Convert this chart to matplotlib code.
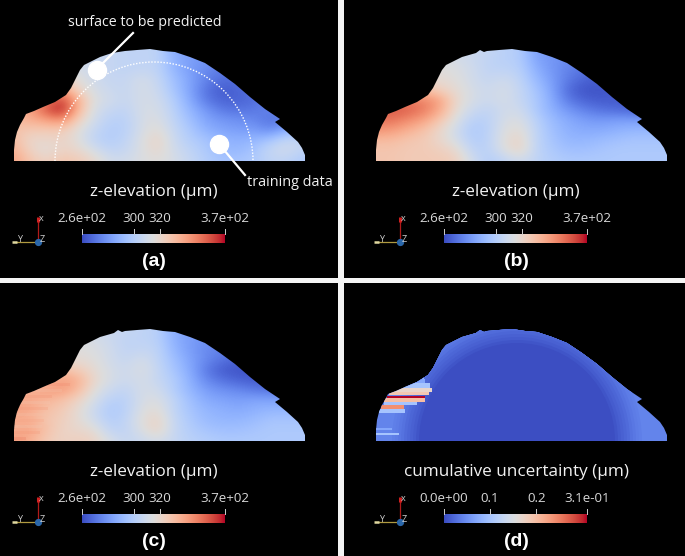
import numpy as np
import matplotlib
matplotlib.use("Agg")
import matplotlib.pyplot as plt
from matplotlib.patches import Polygon, Circle, Arc
from matplotlib.colors import Normalize

# ---- data -----------------------------------------------------------------
grid_x = [14, 30, 46, 62, 78, 94, 110, 126, 142, 158, 174, 190, 206, 222, 238, 254, 270, 286, 302]
grid_y = [50, 60, 70, 80, 90, 100, 110, 120, 130, 140, 150, 160]

surface_a = [
    [312, 312, 312, 312, 310, 308, 306, 304, 304, 304, 285, 282, 280, 278, 278, 278, 278, 278, 278],
    [312, 312, 312, 312, 310, 308, 306, 304, 304, 304, 288, 282, 280, 276, 276, 276, 276, 276, 276],
    [314, 314, 316, 316, 312, 308, 306, 304, 306, 304, 290, 282, 276, 272, 272, 274, 276, 276, 276],
    [322, 322, 326, 326, 316, 310, 306, 306, 312, 306, 294, 284, 274, 268, 268, 272, 276, 276, 276],
    [328, 334, 340, 342, 322, 312, 308, 306, 312, 308, 296, 284, 270, 264, 266, 270, 276, 278, 278],
    [330, 338, 348, 364, 336, 314, 310, 306, 312, 310, 300, 286, 272, 266, 266, 268, 274, 280, 280],
    [332, 340, 358, 370, 334, 312, 306, 304, 312, 312, 302, 290, 280, 272, 270, 272, 274, 276, 280],
    [332, 336, 340, 346, 324, 310, 302, 302, 312, 314, 304, 294, 284, 280, 278, 276, 270, 272, 284],
    [330, 326, 326, 326, 316, 306, 300, 302, 312, 318, 306, 298, 288, 284, 282, 282, 276, 286, 292],
    [332, 320, 320, 322, 316, 304, 300, 304, 314, 322, 308, 300, 296, 290, 288, 290, 296, 306, 304],
    [336, 322, 316, 322, 320, 312, 304, 306, 314, 320, 310, 304, 298, 292, 290, 296, 306, 310, 304],
    [340, 328, 322, 328, 326, 320, 310, 310, 314, 316, 312, 306, 300, 296, 296, 298, 304, 304, 298],
]
surface_b = [
    [312, 312, 312, 312, 312, 310, 308, 306, 302, 300, 282, 280, 278, 276, 276, 276, 276, 276, 276],
    [314, 314, 314, 314, 314, 312, 308, 304, 302, 300, 284, 280, 276, 274, 272, 272, 272, 272, 272],
    [316, 316, 316, 316, 316, 314, 310, 304, 304, 302, 288, 280, 274, 270, 268, 268, 270, 272, 272],
    [318, 318, 320, 320, 318, 316, 310, 306, 310, 304, 292, 282, 272, 266, 264, 264, 266, 270, 270],
    [322, 322, 326, 330, 324, 318, 312, 308, 312, 306, 296, 284, 268, 262, 262, 264, 266, 268, 270],
    [342, 348, 350, 348, 340, 320, 312, 308, 312, 306, 298, 286, 272, 266, 264, 264, 264, 266, 270],
    [354, 358, 356, 350, 338, 318, 308, 304, 310, 310, 298, 288, 280, 274, 270, 268, 266, 264, 268],
    [352, 352, 346, 340, 328, 314, 302, 302, 312, 314, 302, 292, 286, 282, 280, 282, 282, 280, 284],
    [344, 342, 336, 330, 320, 310, 298, 302, 314, 318, 304, 294, 288, 286, 286, 288, 290, 290, 290],
    [332, 332, 328, 326, 320, 312, 300, 302, 316, 322, 304, 296, 290, 290, 292, 294, 296, 296, 296],
    [328, 328, 326, 326, 324, 320, 304, 302, 314, 322, 304, 298, 294, 294, 296, 298, 298, 298, 298],
    [328, 328, 326, 326, 326, 324, 310, 300, 304, 310, 304, 300, 298, 298, 298, 298, 298, 298, 298],
]
surface_c = [
    [312, 312, 312, 312, 312, 310, 308, 306, 304, 302, 286, 282, 280, 278, 276, 276, 276, 276, 276],
    [312, 312, 312, 312, 314, 312, 308, 304, 304, 302, 288, 282, 278, 276, 274, 274, 274, 274, 274],
    [314, 314, 314, 314, 316, 314, 310, 304, 306, 304, 290, 282, 276, 274, 270, 270, 272, 274, 274],
    [316, 316, 316, 318, 318, 316, 310, 306, 312, 304, 294, 284, 276, 270, 266, 264, 266, 270, 272],
    [318, 318, 322, 330, 326, 318, 312, 308, 314, 306, 296, 286, 272, 264, 262, 262, 264, 268, 272],
    [326, 328, 332, 342, 336, 320, 312, 308, 312, 306, 300, 288, 276, 270, 266, 264, 264, 268, 272],
    [334, 336, 340, 342, 332, 316, 308, 304, 312, 310, 300, 290, 282, 278, 276, 272, 270, 270, 274],
    [338, 338, 334, 330, 322, 312, 302, 302, 312, 314, 304, 294, 286, 284, 282, 284, 284, 282, 284],
    [340, 338, 330, 326, 318, 308, 298, 302, 314, 318, 304, 296, 290, 288, 286, 288, 290, 290, 290],
    [336, 336, 328, 324, 318, 310, 300, 304, 316, 322, 306, 298, 292, 290, 290, 292, 296, 296, 296],
    [336, 340, 330, 322, 320, 318, 304, 304, 314, 322, 306, 300, 296, 294, 294, 296, 298, 298, 298],
    [342, 336, 326, 322, 324, 322, 312, 306, 308, 312, 306, 302, 300, 298, 298, 298, 298, 298, 298],
]

# horizontal streaks of panel (c)
c_streak_y = [104, 110, 116, 122, 128, 134, 140, 146, 152, 158]
c_streak_x1 = [70, 62, 52, 50, 48, 46, 44, 42, 40, 26]
c_streak_v = [348, 328, 345, 326, 344, 328, 340, 325, 344, 352]

# panel (d): rings and streaks of uncertainty
ring_radius = [330, 125, 122, 119, 116, 113, 110, 107, 104, 101, 98]
ring_value = [0.040, 0.037, 0.034, 0.031, 0.027, 0.023, 0.019, 0.015, 0.011, 0.007, 0.002]
d_streak_y = [97.7, 101.3, 105.7, 110, 113.3, 116.7, 120, 123.3, 127.3, 131, 149.3, 153.7]
d_streak_h = [3.4, 4, 5, 3.6, 3.6, 2.4, 3.6, 3.6, 4, 3.6, 2.0, 1.6]
d_streak_x0 = [51.7, 45, 36.7, 30, 26.7, 25, 21.7, 21.7, 19.3, 16.7, 14, 14]
d_streak_x1 = [61.7, 63, 68, 70, 67, 62.7, 63, 55, 41.7, 43, 30, 36.7]
d_streak_v = [0.09, 0.07, 0.10, 0.17, 0.19, 0.31, 0.20, 0.10, 0.24, 0.10, 0.07, 0.10]

outline_a = [(14, 161), (14, 150), (15, 140), (17, 132), (20, 125), (24, 118), (26, 114), (34, 111),
             (43, 107), (55, 102), (66, 95), (71, 88), (76, 78), (80, 70), (84, 65), (92, 61),
             (100, 57), (112, 53), (125, 51), (137, 50), (150, 49), (163, 51), (175, 52),
             (190, 57), (205, 63), (220, 73), (235, 84), (250, 97), (265, 109), (280, 119),
             (275, 122), (281, 127), (287, 132), (298, 142), (302, 148), (305, 155), (305, 161)]
outline_rest = outline_a[:17] + [(114, 53), (118, 50), (122, 52)] + outline_a[18:]

z_range = (260, 370)
z_ticks = [260, 300, 320, 370]
z_tick_labels = ["2.6e+02", "300", "320", "3.7e+02"]
u_range = (0, 0.31)
u_ticks = [0, 0.1, 0.2, 0.31]
u_tick_labels = ["0.0e+00", "0.1", "0.2", "3.1e-01"]

panel_box = {"a": (0, 338, 0, 278), "b": (344, 685, 0, 278),
             "c": (0, 338, 283, 556), "d": (344, 685, 283, 556)}
panel_off = {"a": (0, 0), "b": (362, 0), "c": (0, 280), "d": (362, 280)}

# ---- drawing ---------------------------------------------------------------
W, H = 685, 556
TXT = ["Open Sans", "DejaVu Sans"]
BOLD = ["Liberation Sans", "DejaVu Sans"]
cmap = plt.get_cmap("coolwarm")
fig = plt.figure(figsize=(W / 100, H / 100), dpi=100, facecolor="#f4f4f4")


def make_axes(key):
    x0, x1, y0, y1 = panel_box[key]
    ox, oy = panel_off[key]
    ax = fig.add_axes([x0 / W, 1 - y1 / H, (x1 - x0) / W, (y1 - y0) / H], facecolor="black")
    ax.set_xticks([])
    ax.set_yticks([])
    for s in ax.spines.values():
        s.set_visible(False)
    return ax, (x0 - ox, x1 - ox), (y1 - oy, y0 - oy)


def decorate(ax, title, label, rng, ticks, tick_labels):
    norm = Normalize(*rng)
    ax.text(154, 192.5, title, color="#f2f2f2", ha="center", va="center", fontsize=12.3, family=TXT)
    ax.imshow(np.linspace(0, 1, 256)[None, :], cmap=cmap, vmin=0, vmax=1, aspect="auto",
              extent=(82, 225, 243, 234), zorder=3)
    for v, t in zip(ticks, tick_labels):
        x = 82 + 143 * norm(v)
        ax.plot([x, x], [229, 234], color="#cfcfcf", lw=0.7, zorder=3)
        ax.text(x, 218.5, t, color="#d8d8d8", ha="center", va="center", fontsize=9.6, family=TXT)
    ax.text(154, 262, label, color="white", ha="center", va="center", fontsize=14,
            fontweight="bold", family=BOLD)
    # orientation triad
    ax.plot([38, 38], [242, 221], color="#b01a1a", lw=0.9)
    ax.plot([38, 38], [222, 217], color="#d02020", lw=2.2, solid_capstyle="butt")
    ax.plot([16, 38], [242, 242], color="#b09a40", lw=0.9)
    ax.plot([12, 17], [242, 242], color="#e0d8a0", lw=1.8, solid_capstyle="butt")
    ax.plot([38], [242], "o", ms=4.2, color="#2a66a8")
    ax.text(41, 218.5, "x", color="#cccccc", fontsize=6.5, ha="center", va="center", family=TXT)
    ax.text(20, 239, "Y", color="#cccccc", fontsize=6.5, ha="center", va="center", family=TXT)
    ax.text(42, 239, "Z", color="#cccccc", fontsize=6.5, ha="center", va="center", family=TXT)


def surface(ax, values, outline):
    dx = grid_x[1] - grid_x[0]
    dy = grid_y[1] - grid_y[0]
    im = ax.imshow(values, cmap=cmap, vmin=z_range[0], vmax=z_range[1], aspect="auto",
                   interpolation="bicubic",
                   extent=(grid_x[0] - dx / 2, grid_x[-1] + dx / 2, grid_y[-1] + dy / 2, grid_y[0] - dy / 2))
    clip = Polygon(outline, closed=True, transform=ax.transData)
    im.set_clip_path(clip)
    return clip


for key, vals in zip("abc", (surface_a, surface_b, surface_c)):
    ax, xl, yl = make_axes(key)
    clip = surface(ax, vals, outline_a if key == "a" else outline_rest)
    decorate(ax, "z-elevation (µm)", f"({key})", z_range, z_ticks, z_tick_labels)
    if key == "a":
        ax.add_patch(Arc((154, 161), 198, 198, theta1=180, theta2=360, color="white",
                         lw=1.0, ls=(0, (1, 1.2)), zorder=4))
        ax.plot([133, 97], [33, 69], color="white", lw=1.6, zorder=5)
        ax.plot([219, 245], [144, 175], color="white", lw=1.6, zorder=5)
        ax.plot([97, 219], [70, 144], "o", ms=13, color="white", ls="none", zorder=6)
        ax.text(145, 23, "surface to be predicted", color="#f2f2f2", ha="center", va="center",
                fontsize=10.3, family=TXT)
        ax.text(290, 183, "training data", color="#f2f2f2", ha="center", va="center",
                fontsize=10.4, family=TXT)
    if key == "c":
        bars = ax.barh(c_streak_y, [x - 14 for x in c_streak_x1], left=14, height=3.0,
                       color=cmap(Normalize(*z_range)(c_streak_v)), alpha=0.22, lw=0)
        for b in bars:
            b.set_clip_path(clip)
    ax.set_xlim(*xl)
    ax.set_ylim(*yl)

ax, xl, yl = make_axes("d")
norm_u = Normalize(*u_range)
clip_d = Polygon(outline_rest, closed=True, transform=ax.transData)
for r, v in zip(ring_radius, ring_value):
    c = Circle((155, 161), r, color=cmap(norm_u(v)), lw=0)
    ax.add_patch(c)
    c.set_clip_path(clip_d)
bars = ax.barh(d_streak_y, np.subtract(d_streak_x1, d_streak_x0), left=d_streak_x0, height=d_streak_h,
               color=cmap(norm_u(d_streak_v)), lw=0)
for b in bars:
    b.set_clip_path(clip_d)
decorate(ax, "cumulative uncertainty (µm)", "(d)", u_range, u_ticks, u_tick_labels)
ax.set_xlim(*xl)
ax.set_ylim(*yl)

fig.savefig("out.png", dpi=100, facecolor=fig.get_facecolor())
